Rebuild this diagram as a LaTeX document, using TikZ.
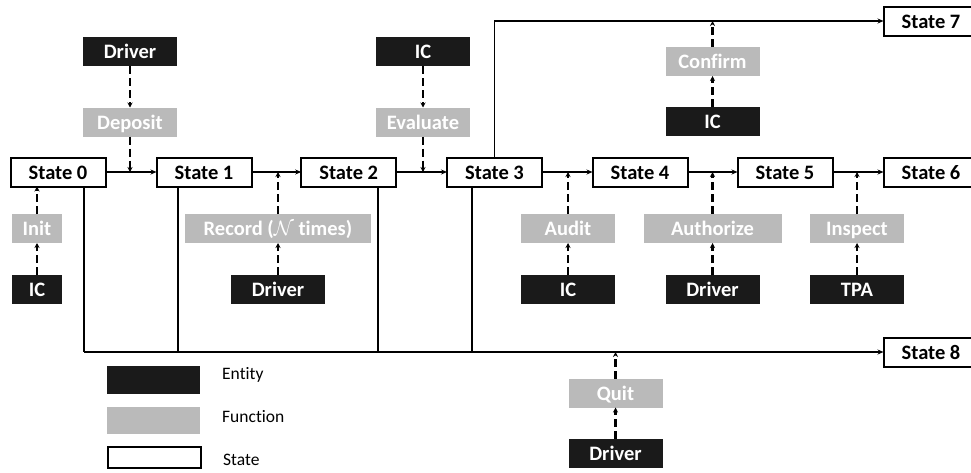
\documentclass[tikz,border=0pt]{standalone}
\usepackage{fontspec}
\setmainfont[Ligatures=NoCommon]{Carlito}
\usetikzlibrary{arrows.meta}
\definecolor{entityfill}{RGB}{26,26,26}
\definecolor{funcfill}{RGB}{186,186,186}

\begin{document}
\begin{tikzpicture}[x=1pt,y=-1pt,
  box/.style={inner sep=0pt, outer sep=0pt, text height=14pt, text depth=0pt,
              font=\fontsize{20.5}{24}\selectfont\bfseries, minimum height=29pt},
  statebox/.style={box, draw=black, fill=white, line width=2pt, text=black,
                   minimum width=95pt, minimum height=29pt},
  entity/.style={box, fill=entityfill, text=white, minimum width=94pt},
  func/.style={box, fill=funcfill, text=white, minimum width=94pt},
  flow/.style={line width=1.6pt, -{Stealth[length=6pt,width=5pt]}},
  link/.style={line width=1.1pt},
  call/.style={line width=2.2pt, dash pattern=on 8pt off 4pt, -{Stealth[length=5pt,width=5pt]}},
  legend/.style={anchor=west, font=\fontsize{17.5}{21}\selectfont, inner sep=0pt}
]
\useasboundingbox (0,0) rectangle (971,472);

% states
\node[statebox] (S0) at (58,172)    {State 0};
\node[statebox] (S1) at (204,172)   {State 1};
\node[statebox] (S2) at (348.7,172) {State 2};
\node[statebox] (S3) at (494.5,172) {State 3};
\node[statebox] (S4) at (640,172)   {State 4};
\node[statebox] (S5) at (785,172)   {State 5};
\node[statebox] (S6) at (931,172)   {State 6};
\node[statebox] (S7) at (931,21)    {State 7};
\node[statebox] (S8) at (931,352)   {State 8};

% entities and functions
\node[entity] (D1) at (130,51.5) {Driver};
\node[func]   (Dep) at (130,122) {Deposit};
\node[entity] (IC2) at (423,51.5) {IC};
\node[func]   (Eval) at (423,122) {Evaluate};
\node[entity, minimum width=50pt] (IC0) at (37,289.5) {IC};
\node[func, minimum width=50pt]   (Init) at (37,228.5) {Init};
\node[entity] (Drv1) at (278,289.5) {Driver};
\node[func, minimum width=186pt] (Rec) at (278,228.5) {Record ($\mathcal{N}$ times)};
\node[entity] (IC3) at (568,289.5) {IC};
\node[func]   (Aud) at (568,228.5) {Audit};
\node[entity] (Drv4) at (712.5,289.5) {Driver};
\node[func, minimum width=138pt] (Auth) at (712.5,228.5) {Authorize};
\node[entity] (TPA) at (857,289.5) {TPA};
\node[func]   (Insp) at (857,228.5) {Inspect};
\node[entity] (IC7) at (712.5,121) {IC};
\node[func]   (Conf) at (712.5,61.5) {Confirm};
\node[entity] (Drv8) at (615.5,453) {Driver};
\node[func]   (Quit) at (615.5,393) {Quit};

% main state flow
\draw[flow] (S0) -- (S1);
\draw[flow] (S1) -- (S2);
\draw[flow] (S2) -- (S3);
\draw[flow] (S3) -- (S4);
\draw[flow] (S4) -- (S5);
\draw[flow] (S5) -- (S6);
\draw[flow] (S3.north) |- (S7.west);

% exits to State 8
\coordinate (j0) at (84,352);
\coordinate (j1) at (178,352);
\coordinate (j2) at (378,352);
\coordinate (j3) at (472,352);
\draw[link] (S0.south -| j0) -- (j0);
\draw[link] (S1.south -| j1) -- (j1);
\draw[link] (S2.south -| j2) -- (j2);
\draw[link] (S3.south -| j3) -- (j3);
\draw[link, -{Stealth[length=6pt,width=5pt]}] (j0) -- (S8.west);

% function calls
\draw[call] (D1) -- (Dep);
\draw[call] (Dep) -- (Dep |- S0.east);
\draw[call] (IC0) -- (Init);
\draw[call] (Init) -- (Init |- S0.south);
\draw[call] (Drv1) -- (Rec);
\draw[call] (Rec) -- (Rec |- S1.east);
\draw[call] (IC2) -- (Eval);
\draw[call] (Eval) -- (Eval |- S2.east);
\draw[call] (IC3) -- (Aud);
\draw[call] (Aud) -- (Aud |- S3.east);
\draw[call] (Drv4) -- (Auth);
\draw[call] (Auth) -- (Auth |- S4.east);
\draw[call] (TPA) -- (Insp);
\draw[call] (Insp) -- (Insp |- S5.east);
\draw[call] (IC7) -- (Conf);
\draw[call] (Conf) -- (Conf |- S7.west);
\draw[call] (Drv8) -- (Quit);
\draw[call] (Quit) -- (Quit |- S8.west);

% legend
\node[entity, minimum width=93pt, minimum height=28pt] (LE) at (153.5,380) {};
\node[func, minimum width=93pt, minimum height=27.5pt] (LF) at (153.5,420.5) {};
\node[statebox, minimum width=93pt, minimum height=21pt] (LS) at (154,457.5) {};
\node[legend] (LEt) at (222,375) {Entity};
\node[legend] (LFt) at (222,417) {Function};
\node[legend] (LSt) at (223,460) {State};
\end{tikzpicture}
\end{document}
